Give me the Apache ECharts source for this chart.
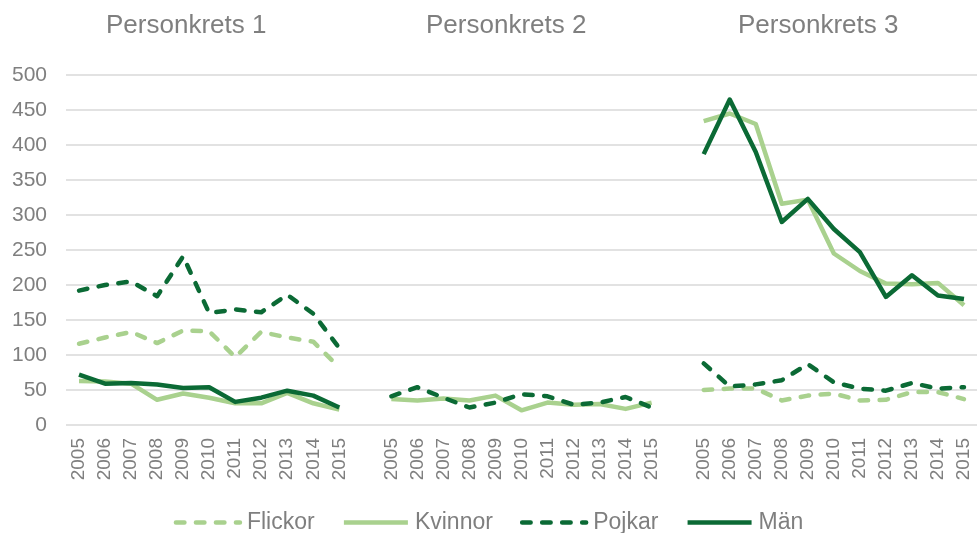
<!DOCTYPE html>
<html>
<head>
<meta charset="utf-8">
<script src="https://cdn.jsdelivr.net/npm/echarts@6/dist/echarts.min.js"></script>
<style>
  html, body { margin: 0; padding: 0; background: #fff; }
  #main { width: 977px; height: 533px; }
</style>
</head>
<body>
<div id="main"></div>
<script>
// år och personkretsar
var years = ['2005', '2006', '2007', '2008', '2009', '2010', '2011', '2012', '2013', '2014', '2015'];
var panels = ['Personkrets 1', 'Personkrets 2', 'Personkrets 3'];

// värden per personkrets (null = saknas)
var flickor1 = [116, 125, 133, 117, 135, 134, 97, 133, 125, 119, 82];
var flickor2 = [null, null, null, null, null, null, null, null, null, null, null];
var flickor3 = [50, 52, 52, 35, 42, 45, 35, 36, 47, 47, 37];

var kvinnor1 = [63, 62, 59, 36, 45, 39, 31, 31, 46, 31, 22];
var kvinnor2 = [37, 35, 38, 35, 42, 21, 32, 29, 30, 23, 32];
var kvinnor3 = [434, 445, 430, 316, 322, 245, 220, 202, 201, 203, 171];

var pojkar1 = [192, 200, 205, 184, 241, 160, 165, 161, 186, 159, 110];
var pojkar2 = [41, 54, 39, 25, 32, 44, 41, 29, 32, 40, 25];
var pojkar3 = [88, 55, 58, 64, 87, 61, 52, 49, 60, 52, 54];

var man1 = [72, 59, 60, 58, 53, 54, 33, 39, 49, 42, 25];
var man2 = [null, null, null, null, null, null, null, null, null, null, null];
var man3 = [387, 465, 390, 290, 323, 280, 247, 183, 214, 185, 180];

// kategoriaxel med ett tomt steg mellan kretsarna
var categories = years.concat([''], years, [' '], years);
function join3(a, b, c) {
    return a.concat([null], b, [null], c);
}

var light = '#a9d18e';
var dark = '#0b6a35';
var grey = '#7f7f7f';
var titleFont = '26px "Liberation Sans", Arial, sans-serif';

var chart = echarts.init(document.getElementById('main'));

function lineSeries(name, data, color, dashed) {
    return {
        name: name,
        type: 'line',
        data: data,
        symbol: 'none',
        connectNulls: false,
        lineStyle: {
            color: color,
            width: 4.5,
            type: dashed ? [8.5, 11.5] : 'solid',
            cap: dashed ? 'round' : 'butt',
            join: 'round'
        },
        itemStyle: { color: color }
    };
}

var option = {
    animation: false,
    backgroundColor: '#fff',
    textStyle: { fontFamily: 'Liberation Sans, Arial, sans-serif' },
    graphic: [
        { type: 'text', left: 106, top: 13, style: { text: panels[0], fill: grey, font: titleFont } },
        { type: 'text', left: 426, top: 13, style: { text: panels[1], fill: grey, font: titleFont } },
        { type: 'text', left: 738, top: 13, style: { text: panels[2], fill: grey, font: titleFont } }
    ],
    grid: {
        left: 66,
        top: 75,
        width: 917,
        height: 350,
        containLabel: false
    },
    legend: {
        top: 506,
        left: 'center',
        itemWidth: 64,
        itemHeight: 14,
        itemGap: 27,
        itemStyle: { opacity: 0 },
        lineStyle: { width: 4.5 },
        textStyle: { color: grey, fontSize: 23, padding: [0, 0, 0, 2] },
        data: ['Flickor', 'Kvinnor', 'Pojkar', 'Män']
    },
    xAxis: {
        type: 'category',
        data: categories,
        boundaryGap: true,
        axisLine: { show: false },
        axisTick: { show: false },
        axisLabel: {
            rotate: 90,
            interval: 0,
            color: grey,
            fontSize: 19,
            margin: 13
        }
    },
    yAxis: {
        type: 'value',
        min: 0,
        max: 500,
        interval: 50,
        axisLine: { show: false },
        axisTick: { show: false },
        axisLabel: { color: grey, fontSize: 21, margin: 19 },
        splitLine: { lineStyle: { color: '#d9d9d9', width: 1.5 } }
    },
    series: [
        lineSeries('Flickor', join3(flickor1, flickor2, flickor3), light, true),
        lineSeries('Kvinnor', join3(kvinnor1, kvinnor2, kvinnor3), light, false),
        lineSeries('Pojkar', join3(pojkar1, pojkar2, pojkar3), dark, true),
        lineSeries('Män', join3(man1, man2, man3), dark, false)
    ]
};

chart.setOption(option);
</script>
</body>
</html>
